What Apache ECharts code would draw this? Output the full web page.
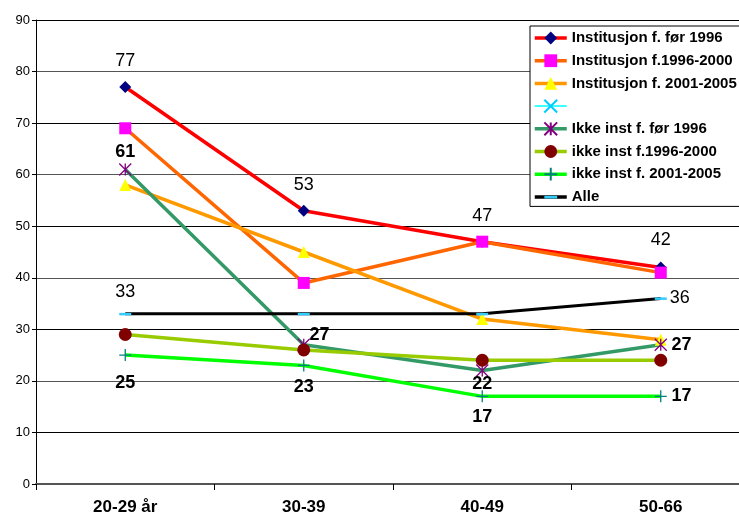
<!DOCTYPE html>
<html>
<head>
<meta charset="utf-8">
<script src="https://cdn.jsdelivr.net/npm/echarts@6/dist/echarts.min.js"></script>
<style>
html,body{margin:0;padding:0;background:#fff;}
#chart{width:739px;height:518px;}
</style>
</head>
<body>
<div id="chart"></div>
<script>
// ---- data ----
const categories = ['20-29 år', '30-39', '40-49', '50-66'];
const seriesNames = [
  'Institusjon f. før 1996',
  'Institusjon f.1996-2000',
  'Institusjon f. 2001-2005',
  '\u00A0',
  'Ikke inst f. før 1996',
  'ikke inst f.1996-2000',
  'ikke inst f. 2001-2005',
  'Alle'
];
const instFor1996 = [77, 53, 47, 42];
const inst1996to2000 = [69, 39, 47, 41];
const inst2001to2005 = [58, 45, 32, 28];
const blankSeries = [null, null, null, null];
const ikkeFor1996 = [61, 27, 22, 27];
const ikke1996to2000 = [29, 26, 24, 24];
const ikke2001to2005 = [25, 23, 17, 17];
const alle = [33, 33, 33, 36];

// ---- styles ----
const FONT = 'Arial, "Liberation Sans", sans-serif';
const base = { color: '#000', fontFamily: FONT, fontSize: 18 };
function lbl(extra) { return Object.assign({ show: true }, base, extra); }
function withLabels(values, labels) {
  return values.map((v, i) => labels && labels[i] ? { value: v, label: labels[i] } : { value: v, label: { show: false } });
}
const ASTERISK = 'path://M0,0L10,10M10,0L0,10M5,0L5,10';
const PLUS = 'path://M5,0L5,10M0,5L10,5';
const XMARK = 'path://M0,0L10,10M10,0L0,10';
const DASH = 'path://M0,0M12,12M0,5L12,5L12,7.5L0,7.5Z';

function line(name, values, lineColor, symbol, symColor, size, opts) {
  return Object.assign({
    name: name,
    type: 'line',
    data: values,
    symbol: symbol,
    symbolSize: size,
    showAllSymbol: true,
    lineStyle: { color: lineColor, width: 3.5 },
    itemStyle: { color: symColor, borderColor: symColor, borderWidth: 0 },
    emphasis: { disabled: true },
    z: 3
  }, opts || {});
}

const series = [
  line(seriesNames[0], withLabels(instFor1996, [
    lbl({ position: 'top', distance: 11 }),
    lbl({ position: 'top', distance: 11 }),
    lbl({ position: 'top', distance: 11 }),
    lbl({ position: 'top', distance: 12 })
  ]), '#FF0000', 'diamond', '#000080', 12),
  line(seriesNames[1], withLabels(inst1996to2000, null), '#FF6600', 'rect', '#FF00FF', 12),
  line(seriesNames[2], withLabels(inst2001to2005, null), '#FF9900', 'triangle', '#FFFF00', 12),
  line(seriesNames[3], blankSeries, '#00FFFF', XMARK, '#00CCFF', 10, {
    lineStyle: { color: '#00FFFF', width: 1.5 },
    itemStyle: { color: '#00CCFF', borderColor: '#00CCFF', borderWidth: 1.5 }
  }),
  line(seriesNames[4], withLabels(ikkeFor1996, [
    lbl({ position: 'top', distance: 2, fontWeight: 'bold' }),
    lbl({ position: 'right', distance: -1, offset: [0, -10], fontWeight: 'bold' }),
    lbl({ position: 'bottom', distance: -2, fontWeight: 'bold' }),
    lbl({ position: 'right', distance: 4, fontWeight: 'bold' })
  ]), '#339966', ASTERISK, '#800080', 12, {
    itemStyle: { color: '#800080', borderColor: '#800080', borderWidth: 1.3 }
  }),
  line(seriesNames[5], withLabels(ikke1996to2000, null), '#99CC00', 'circle', '#800000', 13),
  line(seriesNames[6], withLabels(ikke2001to2005, [
    lbl({ position: 'bottom', distance: 12, fontWeight: 'bold' }),
    lbl({ position: 'bottom', distance: 6, fontWeight: 'bold' }),
    lbl({ position: 'bottom', distance: 5, fontWeight: 'bold' }),
    lbl({ position: 'right', distance: 4, fontWeight: 'bold' })
  ]), '#00FF00', PLUS, '#008080', 12, {
    itemStyle: { color: '#008080', borderColor: '#008080', borderWidth: 1.3 }
  }),
  line(seriesNames[7], withLabels(alle, [
    lbl({ position: 'top', distance: 7 }),
    null,
    null,
    lbl({ position: 'right', distance: 3 })
  ]), '#000000', DASH, '#33CCFF', 12, { lineStyle: { color: '#000', width: 3 } })
];

const legendData = seriesNames.map((n, i) => i === 3 ? { name: n, lineStyle: { width: 1.5 } } : { name: n });

const chart = echarts.init(document.getElementById('chart'), null, { renderer: 'canvas' });
chart.setOption({
  animation: false,
  backgroundColor: '#fff',
  textStyle: { fontFamily: FONT },
  grid: { left: 36, top: 20, right: -11, bottom: 34, containLabel: false, outerBoundsMode: 'none' },
  legend: {
    orient: 'vertical',
    left: 530,
    top: 26,
    data: legendData,
    itemWidth: 32,
    itemHeight: 16,
    itemGap: 7.7,
    padding: [4.5, 20, 2, 3],
    borderColor: '#000',
    borderWidth: 1,
    backgroundColor: '#fff',
    selectedMode: false,
    lineStyle: { width: 3.5 },
    textStyle: { fontSize: 15, fontWeight: 'bold', color: '#000', fontFamily: FONT, lineHeight: 15 },
    z: 10
  },
  xAxis: {
    type: 'category',
    data: categories,
    boundaryGap: true,
    axisLine: { lineStyle: { color: '#555', width: 2 } },
    axisTick: { show: true, length: 6, lineStyle: { color: '#000', width: 1 } },
    axisLabel: { fontSize: 17, fontWeight: 'bold', color: '#000', margin: 15, fontFamily: FONT },
    splitLine: { show: false }
  },
  yAxis: {
    type: 'value',
    min: 0,
    max: 90,
    interval: 10,
    axisLine: { show: true, lineStyle: { color: '#000', width: 1 } },
    axisTick: { show: true, length: 4, lineStyle: { color: '#000' } },
    axisLabel: { fontSize: 13, color: '#000', margin: 6, fontFamily: FONT },
    splitLine: { show: true, lineStyle: { color: ['#555', '#000'], width: 1 } }
  },
  series: series
});
</script>
</body>
</html>
